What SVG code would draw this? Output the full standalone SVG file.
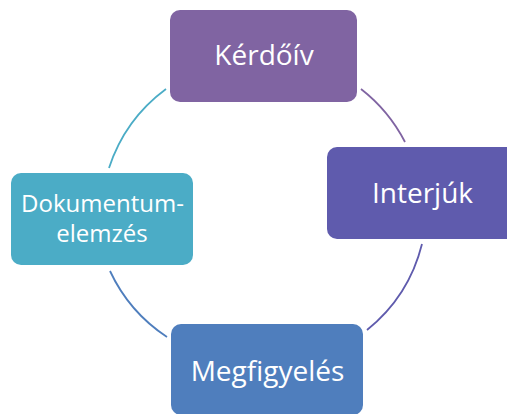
<svg xmlns="http://www.w3.org/2000/svg" width="507" height="414" viewBox="0 0 507 414">
<style>
.lbl{font-family:"Open Sans","Noto Sans",sans-serif;fill:#fff;text-anchor:middle}
.big{font-size:28px}
.sm{font-size:24px}
.arc{fill:none;stroke-width:1.8}
</style>
<rect width="507" height="414" fill="#fff"/>
<g id="connectors">
<path class="arc" stroke="#4BACC6" d="M109 168 A160 160 0 0 1 166 89"/>
<path class="arc" stroke="#8064A2" d="M361 89 A160 160 0 0 1 405 142"/>
<path class="arc" stroke="#5F5BAD" d="M422 244 A160 160 0 0 1 367 330"/>
<path class="arc" stroke="#4F7EBD" d="M167 337 A160 160 0 0 1 110 271"/>
</g>
<g id="kerdoiv">
<rect x="170" y="10" width="187" height="92" rx="10" fill="#8064A2"/>
<text class="lbl big" x="264" y="65">Kérdőív</text>
</g>
<g id="interjuk">
<rect x="327" y="147" width="190" height="92" rx="10" fill="#5F5BAD"/>
<text class="lbl big" x="422.5" y="203">Interjúk</text>
</g>
<g id="megfigyeles">
<rect x="171" y="324" width="192" height="91" rx="10" fill="#4F7EBD"/>
<text class="lbl big" x="267.5" y="381">Megfigyelés</text>
</g>
<g id="dokumentumelemzes">
<rect x="11" y="173" width="182" height="92" rx="10" fill="#4BACC6"/>
<text class="lbl sm"><tspan x="102.5" y="212">Dokumentum-</tspan><tspan x="102" y="242">elemzés</tspan></text>
</g>
</svg>
